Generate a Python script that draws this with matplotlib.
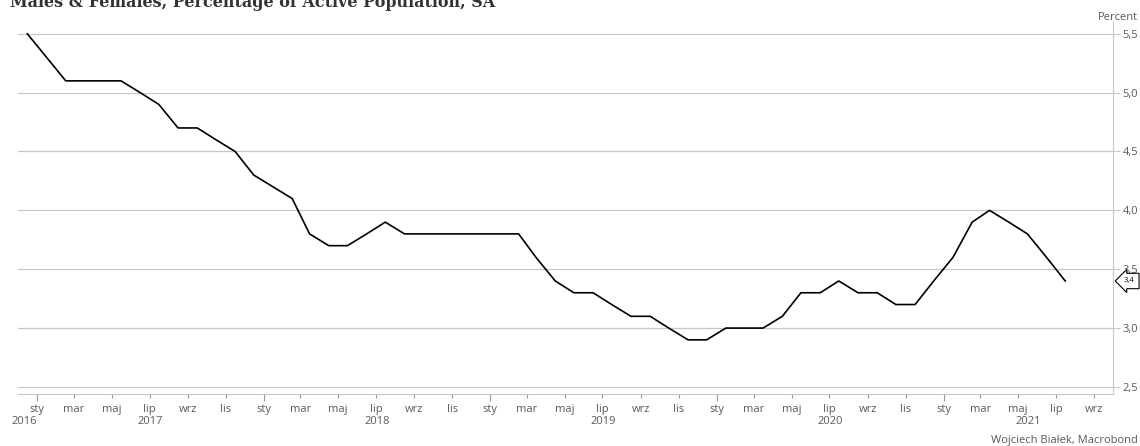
import numpy as np
import pandas as pd
import matplotlib
matplotlib.use('Agg')
import matplotlib.pyplot as plt
import matplotlib.dates as mdates
from matplotlib.transforms import blended_transform_factory

# Datos: tasa mensual (SA), dic 2016 - jul 2021.
inicio = '2016-12-01'
valores = [5.5,
           5.3, 5.1, 5.1, 5.1, 5.1, 5.0, 4.9, 4.7, 4.7, 4.6, 4.5, 4.3,
           4.2, 4.1, 3.8, 3.7, 3.7, 3.8, 3.9, 3.8, 3.8, 3.8, 3.8, 3.8,
           3.8, 3.8, 3.6, 3.4, 3.3, 3.3, 3.2, 3.1, 3.1, 3.0, 2.9, 2.9,
           3.0, 3.0, 3.0, 3.1, 3.3, 3.3, 3.4, 3.3, 3.3, 3.2, 3.2, 3.4,
           3.6, 3.9, 4.0, 3.9, 3.8, 3.6, 3.4]
meses_pl = {1: 'sty', 3: 'mar', 5: 'maj', 7: 'lip', 9: 'wrz', 11: 'lis'}
anios = [2016, 2017, 2018, 2019, 2020, 2021]
yticks = [2.5, 3.0, 3.5, 4.0, 4.5, 5.0, 5.5]

gris = '#595959'
gris_linea = '#c8c8c8'
plt.rcParams['font.family'] = ['Open Sans', 'DejaVu Sans']

fechas = pd.date_range(inicio, periods=len(valores), freq='MS') + pd.Timedelta(days=15)
x0 = pd.Timestamp('2016-12-01')
x1 = pd.Timestamp('2021-10-01')

fig = plt.figure(figsize=(11.4, 4.46), dpi=100)
ax = fig.add_axes([18/1140, 52/446, (1113-18)/1140, (394-22)/446])

ax.plot(fechas, valores, color='black', lw=1.2, zorder=3)

ax.set_xlim(x0, x1)
ax.set_ylim(2.44, 5.6)

# Eje y a la derecha.
ax.yaxis.tick_right()
ax.set_yticks(yticks)
ax.set_yticklabels([f'{v:.1f}'.replace('.', ',') for v in yticks])
ax.tick_params(axis='y', length=5, width=0.8, color=gris_linea, labelcolor=gris,
               labelsize=8, pad=2)
ax.grid(axis='y', color=gris_linea, lw=0.9)

# Eje x: cada dos meses.
ticks = pd.date_range('2017-01-01', '2021-09-01', freq='2MS')
ax.set_xticks(ticks)
ax.set_xticklabels([meses_pl[t.month] for t in ticks])
ax.tick_params(axis='x', length=3, width=0.8, color='#999999', labelcolor=gris,
               labelsize=8, pad=4)
for t, linea in zip(ticks, ax.get_xticklines()[::2]):
    if t.month == 1:
        linea.set_markersize(5)

for lado in ['top', 'left']:
    ax.spines[lado].set_visible(False)
ax.spines['right'].set_color(gris_linea)
ax.spines['bottom'].set_color(gris_linea)

# Etiquetas de año.
trans = blended_transform_factory(ax.transData, ax.transAxes)
for a in anios:
    ini = max(pd.Timestamp(f'{a}-01-01'), x0)
    fin = min(pd.Timestamp(f'{a + 1}-01-01'), x1)
    if (fin - ini).days < 60:
        ax.text(mdates.date2num(fin), -0.075, str(a), transform=trans, ha='right',
                va='center', fontsize=8, color=gris)
    else:
        centro = mdates.date2num(ini) + (mdates.date2num(fin) - mdates.date2num(ini)) / 2
        ax.text(centro, -0.075, str(a), transform=trans, ha='center',
                va='center', fontsize=8, color=gris)

# Último valor.
ax.annotate(f'{valores[-1]:.1f}'.replace('.', ','), xy=(1.0, valores[-1]),
            xycoords=('axes fraction', 'data'), xytext=(8, 0),
            textcoords='offset points', ha='left', va='center', fontsize=5.5,
            bbox=dict(boxstyle='larrow,pad=0.55', fc='white', ec='black', lw=0.8),
            annotation_clip=False, zorder=5)

# Textos.
fig.text(10/1140, 1 - 7/446, 'Males & Females, Percentage of Active Population, SA',
         fontsize=11.5, fontweight='bold', family='DejaVu Serif', color='#333333',
         ha='left', va='baseline')
fig.text(1138/1140, 1 - 18/446, 'Percent', fontsize=8, color=gris,
         ha='right', va='center')
fig.text(1138/1140, 1 - 440/446, 'Wojciech Białek, Macrobond', fontsize=8,
         color=gris, ha='right', va='center')

plt.savefig('out.png', dpi=100)
